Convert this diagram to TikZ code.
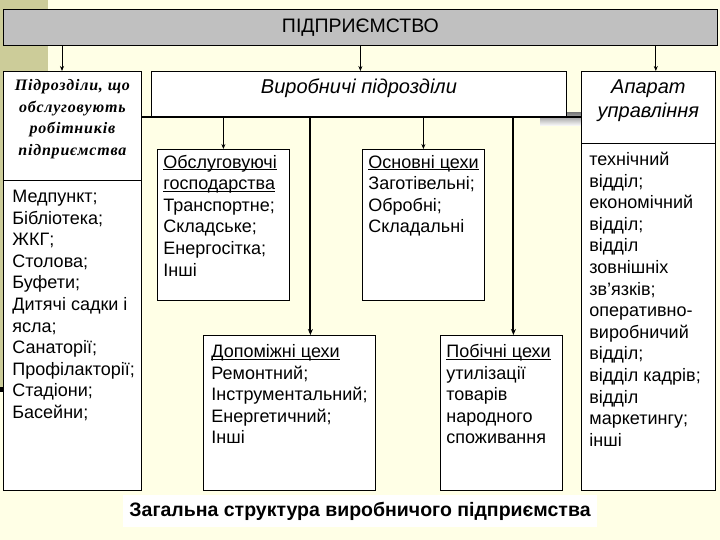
\documentclass[tikz,border=0pt]{standalone}
\usepackage{fontspec}
\setmainfont{Liberation Sans}
\newfontfamily\serifbi[LetterSpace=5]{Liberation Serif}
\usetikzlibrary{arrows.meta}
\definecolor{bg}{HTML}{FFFFE6}
\definecolor{khaki}{HTML}{CCCC99}
\definecolor{topgray}{HTML}{C0C0C0}
\definecolor{shade}{HTML}{A4A4AE}
% width, height, top gap, left inset, text
\newcommand\cellbox[5]{\begin{minipage}[t][#2][t]{#1}\raggedright\leftskip=#4\relax\vspace*{#3}\strut #5\end{minipage}}
% width, height, top gap, text (centred)
\newcommand\headbox[4]{\begin{minipage}[t][#2][t]{#1}\centering\vspace*{#3}\strut #4\end{minipage}}
\newcommand\ulin[1]{\leavevmode\setbox0\hbox{#1}\rlap{\rule[-2.2pt]{\wd0}{0.8pt}}\box0}
\begin{document}
\begin{tikzpicture}[x=1pt,y=-1pt,
  box/.style={draw=black, line width=0.8pt, fill=white, anchor=north west, inner sep=0pt},
  lst/.style={font=\fontsize{18}{21.6}\selectfont},
  arr/.style={-{Stealth[length=5pt,width=4pt]}, line width=0.8pt},
  bus/.style={line width=2pt}]
\useasboundingbox (0,0) rectangle (720,540);
\fill[bg] (0,0) rectangle (720,540);
\fill[khaki] (0,0) rectangle (48,71);
\fill[khaki] (0,71) rectangle (3,390);
\fill[black] (0,387) rectangle (5,392);
\fill[shade] (540,113) rectangle (581,126);

\node[draw=black, line width=0.8pt, fill=topgray, anchor=north west, inner sep=0pt,
  minimum width=714pt, minimum height=36pt, font=\fontsize{19.5}{22}\selectfont] (top) at (3,9) {\raisebox{1.5pt}{ПІДПРИЄМСТВО}};

\node[box, font=\serifbi\bfseries\itshape\fontsize{16}{21.7}\selectfont] (lt) at (3,71)
  {\headbox{138pt}{109pt}{4pt}{Підрозділи, що\\обслуговують\\робітників\\підприємства}};
\node[box, lst] (ll) at (3,180) {\cellbox{138pt}{310pt}{7pt}{9pt}{Медпункт;\\Бібліотека;\\ЖКГ;\\Столова;\\Буфети;\\Дитячі садки і\\ясла;\\Санаторії;\\Профілакторії;\\Стадіони;\\Басейни;}};

\node[box, font=\itshape\fontsize{20}{24}\selectfont] (vyr) at (151,71) {\headbox{415pt}{45pt}{5pt}{Виробничі підрозділи}};

\node[box, font=\itshape\fontsize{20}{24}\selectfont] (aph) at (581,71) {\headbox{134pt}{72pt}{5pt}{Апарат\\управління}};
\node[box, lst] (apl) at (581,143) {\cellbox{134pt}{347pt}{7pt}{8pt}{технічний\\відділ;\\економічний\\відділ;\\відділ\\зовнішніх\\зв’язків;\\оперативно-\\виробничий\\відділ;\\відділ кадрів;\\відділ\\маркетингу;\\інші}};

\node[box, lst] (obs) at (157,149) {\cellbox{132pt}{151pt}{3.5pt}{6pt}{\ulin{Обслуговуючі}\\\ulin{господарства}\\Транспортне;\\Складське;\\Енергосітка;\\Інші}};
\node[box, lst] (osn) at (362,149) {\cellbox{122pt}{151pt}{3.5pt}{6pt}{\ulin{Основні цехи}\\Заготівельні;\\Обробні;\\Складальні}};
\node[box, lst] (dop) at (203,335) {\cellbox{172pt}{155pt}{7pt}{8pt}{\ulin{Допоміжні цехи}\\Ремонтний;\\Інструментальний;\\Енергетичний;\\Інші}};
\node[box, lst] (pob) at (440,335) {\cellbox{122pt}{155pt}{7pt}{6pt}{\ulin{Побічні цехи}\\утилізації\\товарів\\народного\\споживання}};

\node[fill=white, inner sep=0pt, minimum width=474pt, minimum height=32pt, font=\bfseries\fontsize{19.5}{22}\selectfont] (cap) at (360,511) {Загальна структура виробничого підприємства};

\draw[arr] ([xshift=59pt]top.south west) -- ([xshift=59pt]top.south west |- lt.north);
\draw[arr] (top.south) -- (top.south |- vyr.north);
\draw[arr] ([xshift=-62pt]top.south east) -- ([xshift=-62pt]top.south east |- aph.north);
\draw[bus] (lt.east |- vyr.south) -- (aph.west |- vyr.south);
\draw[arr] (obs.north |- vyr.south) -- (obs.north);
\draw[arr] (osn.north |- vyr.south) -- (osn.north);
\draw[bus, -{Stealth[length=6pt,width=5pt]}] ([xshift=21pt]dop.north |- vyr.south) -- ([xshift=21pt]dop.north);
\draw[bus, -{Stealth[length=6pt,width=5pt]}] ([xshift=12pt]pob.north |- vyr.south) -- ([xshift=12pt]pob.north);
\end{tikzpicture}
\end{document}
